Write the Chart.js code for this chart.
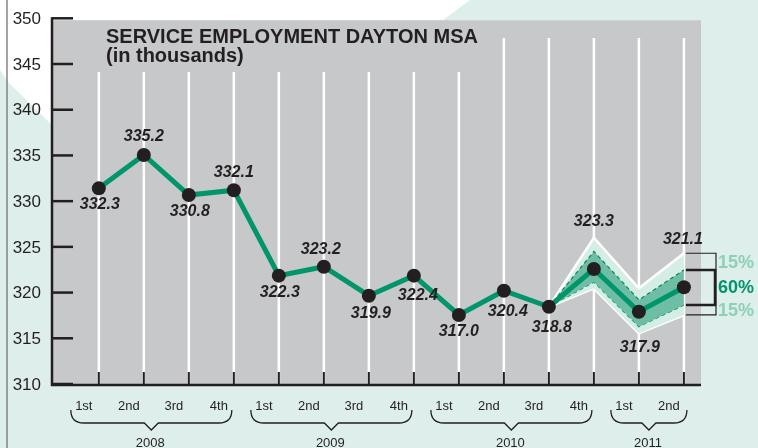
<!DOCTYPE html>
<html>
<head>
<meta charset="utf-8">
<script src="https://cdn.jsdelivr.net/npm/chart.js@4.4.1/dist/chart.umd.min.js"></script>
<style>
  html, body { margin: 0; padding: 0; background: #fff; }
  #myChart { display: block; }
</style>
</head>
<body>
<canvas id="myChart" width="758" height="448"></canvas>
<script>
// quarters 2008 Q1 .. 2011 Q2
const quarterLabels = ['1st', '2nd', '3rd', '4th', '1st', '2nd', '3rd', '4th', '1st', '2nd', '3rd', '4th', '1st', '2nd'];
const yearLabels = ['2008', '2009', '2010', '2011'];
const yearStart = [0, 4, 8, 12];
const yearEnd = [3, 7, 11, 13];

// where the dots sit on the picture, and the printed values
const employment = [331.4, 335.05, 330.67, 331.2, 321.85, 322.83, 319.66, 321.85, 317.55, 320.2, 318.45, 322.58, 317.9, 320.58];
const valueLabels = ['332.3', '335.2', '330.8', '332.1', '322.3', '323.2', '319.9', '322.4', '317.0', '320.4', '318.8', '323.3', '317.9', '321.1'];

// forecast bands (15% / 60% / 15%)
const outerTop = [null, null, null, null, null, null, null, null, null, null, 318.45, 326.0, 320.47, 324.3];
const innerTop = [null, null, null, null, null, null, null, null, null, null, 318.45, 324.5, 319.2, 322.47];
const innerBottom = [null, null, null, null, null, null, null, null, null, null, 318.45, 321.15, 316.27, 318.64];
const outerBottom = [null, null, null, null, null, null, null, null, null, null, 318.45, 320.47, 315.55, 317.55];

const yTicks = [310, 315, 320, 325, 330, 335, 340, 345, 350];

const toPoints = arr => arr.map((v, i) => ({ x: i, y: v }));

const dark = '#231f20';
const green = '#00956b';

const bgPlugin = {
  id: 'bg',
  beforeDraw(chart) {
    const ctx = chart.ctx;
    const a = chart.chartArea;
    ctx.save();
    ctx.fillStyle = '#fff';
    ctx.fillRect(0, 0, chart.width, chart.height);
    ctx.fillStyle = '#deefeb';
    ctx.beginPath();
    ctx.moveTo(0, 70);
    ctx.lineTo(8, 82);
    ctx.lineTo(52, 125);
    ctx.lineTo(52, 20);
    ctx.lineTo(443, 20);
    ctx.lineTo(470, 0);
    ctx.lineTo(chart.width, 0);
    ctx.lineTo(chart.width, chart.height);
    ctx.lineTo(0, chart.height);
    ctx.closePath();
    ctx.fill();
    // left edge rule
    ctx.strokeStyle = '#666';
    ctx.lineWidth = 1.2;
    ctx.beginPath();
    ctx.moveTo(7, 0);
    ctx.lineTo(7, chart.height);
    ctx.stroke();
    // plot
    ctx.fillStyle = '#c7c8ca';
    ctx.fillRect(a.left, a.top + 2, a.right - a.left, a.bottom - a.top - 2);
    ctx.restore();
  },
  beforeDatasetsDraw(chart) {
    const ctx = chart.ctx;
    const a = chart.chartArea;
    const xs = chart.scales.x;
    ctx.save();
    ctx.strokeStyle = '#fff';
    ctx.lineWidth = 2.5;
    quarterLabels.forEach((q, i) => {
      const x = xs.getPixelForValue(i);
      ctx.beginPath();
      ctx.moveTo(x, i < 9 ? 72 : 38);
      ctx.lineTo(x, a.bottom);
      ctx.stroke();
    });
    // title
    ctx.fillStyle = dark;
    ctx.font = 'bold 20px "Liberation Sans", Arial, sans-serif';
    ctx.textBaseline = 'alphabetic';
    ctx.textAlign = 'left';
    ctx.fillText('SERVICE EMPLOYMENT DAYTON MSA', 106, 43);
    ctx.fillText('(in thousands)', 106, 62);
    ctx.restore();
  }
};

// label offsets from their dot, in px
const labelOffsets = [[1, 16], [0, -18], [1, 17], [0, -18], [1, 17], [-3, -17], [2, 18], [4, 20], [0, 17], [4, 21], [3, 21], [0, -47], [1, 36], [-1, -48]];

const axesPlugin = {
  id: 'axes',
  afterDatasetsDraw(chart) {
    const ctx = chart.ctx;
    const a = chart.chartArea;
    const xs = chart.scales.x;
    const ys = chart.scales.y;
    ctx.save();

    // value labels
    ctx.fillStyle = dark;
    ctx.font = 'italic bold 16px "Liberation Sans", Arial, sans-serif';
    ctx.textAlign = 'center';
    ctx.textBaseline = 'middle';
    valueLabels.forEach((t, i) => {
      const x = xs.getPixelForValue(i) + labelOffsets[i][0];
      const y = ys.getPixelForValue(employment[i]) + labelOffsets[i][1];
      ctx.fillText(t, x, y);
    });

    // y axis
    ctx.strokeStyle = dark;
    ctx.lineWidth = 2.5;
    ctx.beginPath();
    ctx.moveTo(a.left, ys.getPixelForValue(350) - 1);
    ctx.lineTo(a.left, a.bottom + 1);
    ctx.lineTo(a.right, a.bottom + 1);
    ctx.stroke();
    ctx.font = '17px "Liberation Sans", Arial, sans-serif';
    ctx.textAlign = 'right';
    yTicks.forEach(v => {
      const y = ys.getPixelForValue(v);
      ctx.beginPath();
      ctx.moveTo(a.left, y);
      ctx.lineTo(a.left + 21, y);
      ctx.stroke();
      ctx.fillText(String(v), 41, y + 1);
    });

    // x ticks and quarter labels
    ctx.lineWidth = 2;
    ctx.font = '13px "Liberation Sans", Arial, sans-serif';
    ctx.textAlign = 'center';
    quarterLabels.forEach((q, i) => {
      const x = xs.getPixelForValue(i);
      ctx.beginPath();
      ctx.moveTo(x, a.bottom - 12);
      ctx.lineTo(x, a.bottom);
      ctx.stroke();
      ctx.fillText(q, x - 15, 406);
    });

    // year braces
    ctx.lineWidth = 1.3;
    yearLabels.forEach((yr, k) => {
      const x0 = xs.getPixelForValue(yearStart[k]) - 28;
      const x1 = xs.getPixelForValue(yearEnd[k]) + (k === 3 ? 3 : -2);
      const mid = (x0 + x1) / 2;
      ctx.beginPath();
      ctx.moveTo(x0, 410);
      ctx.quadraticCurveTo(x0, 423, x0 + 13, 423);
      ctx.lineTo(mid - 7, 423);
      ctx.lineTo(mid, 430);
      ctx.lineTo(mid + 7, 423);
      ctx.lineTo(x1 - 13, 423);
      ctx.quadraticCurveTo(x1, 423, x1, 410);
      ctx.stroke();
      ctx.fillText(yr, mid - 1, 443);
    });

    // band brackets
    const last = quarterLabels.length - 1;
    const bx = xs.getPixelForValue(last) + 2;
    const oT = ys.getPixelForValue(outerTop[last]);
    const oB = ys.getPixelForValue(outerBottom[last]);
    const iT = ys.getPixelForValue(innerTop[last]);
    const iB = ys.getPixelForValue(innerBottom[last]);
    ctx.lineWidth = 1.2;
    ctx.beginPath();
    ctx.moveTo(bx, oT); ctx.lineTo(716, oT); ctx.lineTo(716, oB); ctx.lineTo(bx, oB);
    ctx.stroke();
    ctx.lineWidth = 2.5;
    ctx.beginPath();
    ctx.moveTo(bx, iT); ctx.lineTo(715, iT); ctx.lineTo(715, iB); ctx.lineTo(bx, iB);
    ctx.stroke();
    ctx.textAlign = 'left';
    ctx.font = 'bold 18px "Liberation Sans", Arial, sans-serif';
    ctx.fillStyle = '#8dd0b6';
    ctx.fillText('15%', 718, (oT + iT) / 2 + 1);
    ctx.fillText('15%', 718, (oB + iB) / 2 + 1);
    ctx.fillStyle = green;
    ctx.fillText('60%', 718, (iT + iB) / 2 + 1);
    ctx.restore();
  }
};

const ctx = document.getElementById('myChart');

const myChart = new Chart(ctx, {
  type: 'line',
  data: {
    datasets: [
      {
        data: toPoints(employment),
        borderColor: green,
        borderWidth: 5,
        pointRadius: 7,
        pointBackgroundColor: dark,
        pointBorderWidth: 0,
        fill: false,
        order: 0
      },
      {
        data: toPoints(innerTop),
        borderColor: '#0a8560',
        borderWidth: 1.2,
        borderDash: [4, 3],
        pointRadius: 0,
        backgroundColor: '#6dbea4',
        fill: '+1',
        order: 1
      },
      {
        data: toPoints(innerBottom),
        borderColor: '#0a8560',
        borderWidth: 1.2,
        borderDash: [4, 3],
        pointRadius: 0,
        fill: false,
        order: 1
      },
      {
        data: toPoints(outerTop),
        borderColor: '#fff',
        borderWidth: 2.5,
        pointRadius: 0,
        backgroundColor: '#d4ede5',
        fill: '+1',
        order: 2
      },
      {
        data: toPoints(outerBottom),
        borderColor: '#fff',
        borderWidth: 2.5,
        pointRadius: 0,
        fill: false,
        order: 2
      }
    ]
  },
  options: {
    responsive: false,
    animation: false,
    spanGaps: false,
    layout: { padding: { left: 52, right: 57, top: 18.3, bottom: 64 } },
    plugins: { legend: { display: false }, tooltip: { enabled: false } },
    scales: {
      x: { type: 'linear', min: -1.04, max: 13.38, display: false },
      y: { min: 310, max: 350, display: false }
    }
  },
  plugins: [bgPlugin, axesPlugin]
});
</script>
</body>
</html>
